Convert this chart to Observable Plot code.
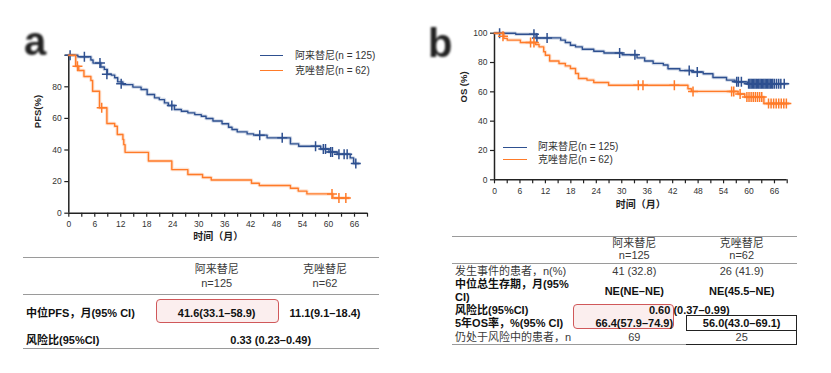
<!DOCTYPE html>
<html><head><meta charset="utf-8">
<script src="https://cdn.jsdelivr.net/npm/d3@7"></script>
<script src="https://cdn.jsdelivr.net/npm/@observablehq/plot@0.6"></script>
<style>
body{margin:0;background:#fff;}
#root{position:relative;width:831px;height:373px;overflow:hidden;font-family:"Liberation Sans","Noto Sans CJK SC",sans-serif;}
.t{position:absolute;white-space:nowrap;line-height:1;font-size:11px;color:#3a3a3a;}
.c{transform:translate(-50%,-50%);}
.l{transform:translate(0,-50%);}
.b{font-weight:bold;color:#111;}
.hl{position:absolute;height:0;border-top:1.5px solid #9a9a9a;}
.vl{position:absolute;width:0;border-left:1.5px solid #222;}
.big{position:absolute;font:bold 40px/40px "Liberation Sans",Arial,sans-serif;color:#222;filter:blur(1.1px);}
.leg{position:absolute;font-size:10px;line-height:1;color:#333;transform:translate(0,-50%);white-space:nowrap;font-family:"Liberation Sans","Noto Sans CJK SC",sans-serif;}
</style></head>
<body><div id="root"></div>
<script>
// ---------- data ----------
const groups = ["阿来替尼", "克唑替尼"];
const groupN = [125, 62];
const colors = ["#2e5090", "#ff7b29"];

// PFS (panel a): [month, %]
const pfsAlectinib = [[0,100],[2.1,99],[5.1,97],[5.6,95],[7.4,92.5],[8.2,91],[8.9,88],[9.8,87.4],[10.6,85.7],[11.3,83.1],[12.5,81.4],[14.8,79.8],[16.7,78.3],[18.1,75.1],[19.8,73],[20.9,71.9],[22.1,69.8],[23,68.2],[24.4,65.6],[26,64.5],[27.5,63.5],[29.1,62.4],[30.6,61.4],[31.7,59.9],[33.3,58.4],[35.4,56.6],[36.9,54.4],[37.7,53],[38.9,51.5],[41.2,50.2],[42.7,49.4],[45.8,47.7],[51.2,43.9],[53.1,42.4],[58.2,40.6],[60.1,38.8],[62,37.3],[65,35],[65.8,31.5],[67,31.5]];
const pfsAlectinibCensor = [[0.3,100],[3.6,99],[7.2,95],[8.8,88],[12.1,82],[23.8,68.2],[44.1,49.4],[49.3,47.7],[57,42.4],[58.8,40.6],[59.3,40.6],[60.5,38.8],[60.9,38.8],[62.4,37.3],[63.6,37.3],[64.3,37.3],[66.3,31.5]];
const pfsCrizotinib = [[0,100],[1.6,93],[2.3,90.3],[3.5,86.5],[5.1,84],[5.5,77.2],[7.1,66.7],[8.8,56.8],[10.6,55],[11.2,49.8],[12.5,46.6],[12.7,43.4],[13,38.5],[18.4,33],[23.8,27.6],[27.5,24.5],[30.9,22.6],[32.9,21],[42.2,19],[44,17.5],[51.2,15.8],[53,14],[55,12.2],[61,9.6],[64.7,9.6]];
const pfsCrizotinibCensor = [[2,93],[7.6,66.7],[60.8,12.2],[62.4,9.6],[64,9.6]];

// OS (panel b)
const osAlectinib = [[0,100],[5,99.3],[9.8,96.8],[15.6,95.3],[16.7,93.7],[17.9,91.8],[19.1,90.7],[20.7,89.1],[23.4,87.7],[25.8,86.5],[30.1,85.3],[33.6,83.2],[35.4,81],[37.4,79.4],[39.8,78.3],[40.9,75.8],[43.7,74.5],[46.5,73.5],[49.2,72.3],[51.5,69.8],[54.7,68],[56.7,66.8],[59.6,65.6],[69,65.6]];
const osAlectinibCensor = [[1.2,100],[9.3,99.3],[10,96.8],[12.4,96.8],[29.5,86.5],[33.1,85.3],[45.9,74.5],[47.8,73.5],[57.1,66.8],[57.5,66.8],[58.2,66.8],[59.9,65.6],[60.2,65.6],[60.5,65.6],[60.8,65.6],[61.1,65.6],[61.4,65.6],[61.7,65.6],[62,65.6],[62.3,65.6],[62.6,65.6],[62.9,65.6],[63.2,65.6],[63.5,65.6],[63.8,65.6],[64.1,65.6],[64.4,65.6],[64.7,65.6],[65,65.6],[65.3,65.6],[65.6,65.6],[66,65.6],[66.5,65.6],[67,65.6],[67.5,65.6],[68.3,65.6]];
const osCrizotinib = [[0,100],[2.2,96.5],[3,95.3],[6.1,93.7],[9.7,92.3],[10.5,90.7],[11.6,87.3],[12,85],[13,81],[15.2,79.3],[16.7,77.7],[17.9,75.9],[19.1,72.5],[19.8,69.1],[21.8,68],[23.4,66.4],[26.9,64.5],[45.6,62.1],[46.4,60.3],[57.4,58.5],[59,56.4],[63.5,52],[69.4,52]];
const osCrizotinibCensor = [[2,98],[8.5,93.7],[9.3,93.7],[33.9,64.5],[35,64.5],[42.4,64.5],[46.8,60.3],[55.9,60.3],[56.4,60.3],[57.9,58.5],[59.5,56.4],[60,56.4],[60.5,56.4],[61,56.4],[61.5,56.4],[62,56.4],[62.5,56.4],[63,56.4],[64.6,52],[65.2,52],[65.8,52],[66.4,52],[67,52],[67.6,52],[68.2,52],[68.8,52]];

const xMinorTicks = d3.range(0, 70, 3);
const xTickLabels = [0,6,12,18,24,30,36,42,48,54,60,66];
const yTicksA = [0,20,40,60,80,100];
const yLabelsA = [0,20,40,60,80];
const yTicksB = [0,20,40,60,80,100];
const yLabelsB = [0,20,40,60,80,100];

// tables
const pfsMedian = ["41.6(33.1–58.9)", "11.1(9.1–18.4)"];
const pfsHR = "0.33 (0.23–0.49)";
const osEvents = ["41 (32.8)", "26 (41.9)"];
const osMedian = ["NE(NE–NE)", "NE(45.5–NE)"];
const osHR = "0.60 (0.37–0.99)";
const os5yr = ["66.4(57.9–74.9)", "56.0(43.0–69.1)"];
const osAtRisk = ["69", "25"];

// ---------- drawing ----------
const root = document.getElementById("root");
const plusSymbol = {draw(ctx, size) { const r = Math.sqrt(size / Math.PI); ctx.moveTo(-r, 0); ctx.lineTo(r, 0); ctx.moveTo(0, -r); ctx.lineTo(0, r); }};
const latin = "Liberation Sans, Arial, sans-serif";
const cjk = "Liberation Sans, Noto Sans CJK SC, sans-serif";

function km({width, height, mL, mR, mT, mB, series, censors, yTicks, yLabels, ylab, xlabDy, ylabDx, ylabDy}) {
  const marks = [
    Plot.axisX(xMinorTicks, {tickSize: 4, tickFormat: () => "", stroke: "#222", strokeWidth: 1.2, label: null}),
    Plot.axisX(xTickLabels, {tickSize: 0, tickPadding: 8, fill: "#333", fontSize: 8.5, label: null}),
    Plot.axisY(yTicks, {tickSize: 4, tickFormat: () => "", stroke: "#222", strokeWidth: 1.2, label: null}),
    Plot.axisY(yLabels, {tickSize: 0, tickPadding: 7, fill: "#333", fontSize: 8.5, label: null}),
    Plot.ruleX([0], {stroke: "#222", strokeWidth: 1.5}),
    Plot.ruleY([0], {stroke: "#222", strokeWidth: 1.5})
  ];
  series.forEach((s, i) => {
    marks.push(Plot.line(s, {x: d => d[0], y: d => d[1], curve: "step-after", stroke: colors[i], strokeWidth: 3.5, strokeOpacity: 0.22}));
    marks.push(Plot.line(s, {x: d => d[0], y: d => d[1], curve: "step-after", stroke: colors[i], strokeWidth: 1.4}));
    marks.push(Plot.dot(censors[i], {x: d => d[0], y: d => d[1], symbol: plusSymbol, r: 5, stroke: colors[i], fill: "none", strokeWidth: 1.5}));
  });
  marks.push(Plot.text(["时间（月）"], {text: d => d, frameAnchor: "bottom", dy: xlabDy, fontWeight: "bold", fontSize: 10, fill: "#222", fontFamily: cjk}));
  marks.push(Plot.text([ylab], {text: d => d, frameAnchor: "left", dx: ylabDx, dy: ylabDy, rotate: -90, fontWeight: "bold", fontSize: 9.5, fill: "#222", fontFamily: latin}));
  const svg = Plot.plot({
    width, height, marginLeft: mL, marginRight: mR, marginTop: mT, marginBottom: mB,
    x: {domain: [0, 69]}, y: {domain: [0, 100]},
    style: {fontFamily: latin, fontSize: "8.5px", color: "#333", background: "transparent", overflow: "visible"},
    marks
  });
  return svg;
}

const figA = km({width: 415, height: 250, mL: 68.3, mR: 48, mT: 54.7, mB: 37.3,
  series: [pfsAlectinib, pfsCrizotinib], censors: [pfsAlectinibCensor, pfsCrizotinibCensor],
  yTicks: yTicksA, yLabels: yLabelsA, ylab: "PFS(%)", xlabDy: 27, ylabDx: -31, ylabDy: -6});
figA.style.position = "absolute"; figA.style.left = "0px"; figA.style.top = "0px";
root.appendChild(figA);

const figB = km({width: 411, height: 230, mL: 74, mR: 44.3, mT: 32.7, mB: 50.7,
  series: [osAlectinib, osCrizotinib], censors: [osAlectinibCensor, osCrizotinibCensor],
  yTicks: yTicksB, yLabels: yLabelsB, ylab: "OS (%)", xlabDy: 28.4, ylabDx: -31, ylabDy: -4});
figB.style.position = "absolute"; figB.style.left = "420px"; figB.style.top = "0px";
root.appendChild(figB);

function el(cls, css, text) {
  const d = document.createElement("div");
  d.className = cls;
  Object.assign(d.style, css);
  if (text != null) d.textContent = text;
  root.appendChild(d);
  return d;
}
function txt(s, x, y, cls = "", anchor = "c") { return el("t " + anchor + " " + cls, {left: x + "px", top: y + "px"}, s); }
function hline(x1, x2, y, color = "#9a9a9a") { return el("hl", {left: x1 + "px", width: (x2 - x1) + "px", top: y + "px", borderTopColor: color}); }
function vline(x, y1, y2) { return el("vl", {left: x + "px", top: y1 + "px", height: (y2 - y1) + "px"}); }
function redBox(x, y, w, h) { return el("", {position: "absolute", left: x + "px", top: y + "px", width: w + "px", height: h + "px", border: "1.3px solid #d0585a", borderRadius: "4px", background: "#fbeeee", boxSizing: "border-box"}); }

// panel labels
el("big", {left: "24px", top: "21px"}, "a");
el("big", {left: "428px", top: "23px"}, "b");

// legends
function legend(x, yRows, lineX) {
  groups.forEach((g, i) => {
    el("hl", {left: lineX[0] + "px", width: (lineX[1] - lineX[0]) + "px", top: (yRows[i] - 0.75) + "px", borderTopColor: colors[i]});
    el("leg", {left: x + "px", top: yRows[i] + "px"}, `${g}(n = ${groupN[i]})`);
  });
}
legend(295, [56, 70.7], [260, 283]);
legend(538, [147.3, 160], [503, 527]);

// ----- table a -----
const colA = [216.7, 325];
hline(22.7, 379, 257.3);
groups.forEach((g, i) => { txt(g, colA[i], 269.3); txt("n=" + groupN[i], colA[i], 282.7); });
hline(22.7, 379, 294);
redBox(155.7, 299.3, 123.6, 24);
txt("中位PFS，月(95% CI)", 26, 312.7, "b", "l");
pfsMedian.forEach((v, i) => txt(v, colA[i], 312.7, "b"));
txt("风险比(95%CI)", 26, 340, "b", "l");
txt(pfsHR, 270.7, 340, "b");
hline(22.7, 379, 348.3);

// ----- table b -----
const colB = [634.3, 741.7];
hline(452.3, 796.7, 235.7);
groups.forEach((g, i) => { txt(g, colB[i], 243.3); txt("n=" + groupN[i], colB[i], 255.3); });
hline(452.3, 796.7, 263);
txt("发生事件的患者，n(%)", 455, 270.7, "", "l");
osEvents.forEach((v, i) => txt(v, colB[i], 270.7));
txt("中位总生存期，月(95%", 455, 284.3, "b", "l");
txt("CI)", 455, 296.7, "b", "l");
osMedian.forEach((v, i) => txt(v, colB[i], 290.7, "b"));
redBox(572.7, 304, 101.6, 24.7);
txt("风险比(95%CI)", 455, 310, "b", "l");
txt(osHR, 689.3, 310, "b");
txt("5年OS率，%(95% CI)", 455, 323.3, "b", "l");
os5yr.forEach((v, i) => txt(v, colB[i], 323.3, "b"));
txt("仍处于风险中的患者，n", 455, 337.3, "", "l");
osAtRisk.forEach((v, i) => txt(v, colB[i], 337.3));
// boxed cells
hline(686, 797, 315, "#222");
hline(686, 797, 329.5, "#222");
vline(686, 315, 330);
vline(796, 315, 344.5);
hline(452.3, 686, 343.5, "#9a9a9a");
hline(686, 797, 343.5, "#222");
</script>
</body></html>
